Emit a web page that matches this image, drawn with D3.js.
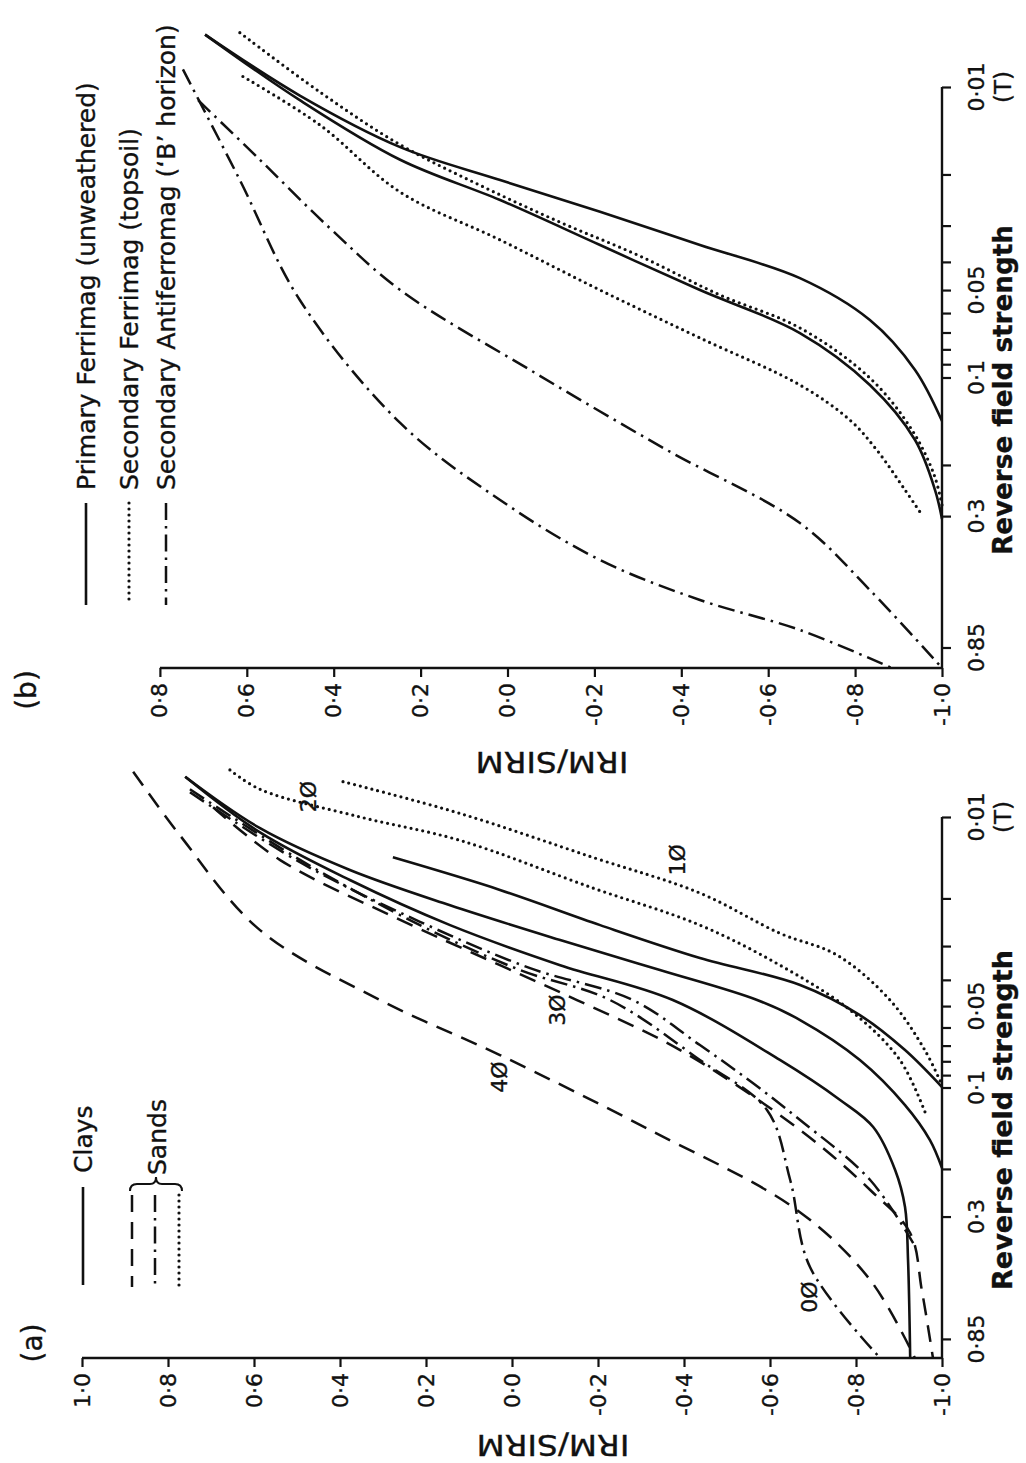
<!DOCTYPE html>
<html><head><meta charset="utf-8">
<script src="https://cdnjs.cloudflare.com/ajax/libs/d3/7.8.5/d3.min.js"></script>
<style>body{margin:0;background:#fff}svg{display:block}</style></head>
<body><svg id="c" width="1026" height="1463"></svg>
<script>
// ---------- data ----------
const irmTicksA = [1.0,0.8,0.6,0.4,0.2,0.0,-0.2,-0.4,-0.6,-0.8,-1.0];
const irmTicksB = [0.8,0.6,0.4,0.2,0.0,-0.2,-0.4,-0.6,-0.8,-1.0];
const fieldLabels = [0.01,0.05,0.1,0.3,0.85];
const fieldTicks = [0.01,0.02,0.03,0.04,0.05,0.06,0.07,0.08,0.09,0.1,0.2,0.3,0.85];

const legendB = ["Primary Ferrimag (unweathered)","Secondary Ferrimag (topsoil)","Secondary Antiferromag (\u2018B\u2019 horizon)"];
const legendA = ["Clays","Sands"];

// panel (b) curves: [IRM/SIRM, reverse field (T)]
const bSolid1 = [[0.696,0.0066],[0.478,0.0107],[0.247,0.0161],[0.017,0.0209],[-0.213,0.0269],[-0.443,0.0350],[-0.673,0.0455],[-0.834,0.0634],[-0.938,0.0942],[-1.0,0.1412]];
const bSolid2 = [[0.696,0.0066],[0.478,0.0111],[0.247,0.0178],[0.017,0.0245],[-0.213,0.0350],[-0.443,0.0500],[-0.673,0.0703],[-0.834,0.1061],[-0.938,0.1641],[-0.984,0.2440],[-1.0,0.3070]];
const bDot1 = [[0.616,0.0065],[0.432,0.0104],[0.247,0.0158],[0.063,0.0218],[-0.121,0.0292],[-0.305,0.0382],[-0.489,0.0520],[-0.673,0.0675],[-0.834,0.1004],[-0.931,0.1516],[-0.982,0.2166],[-1.0,0.2748]];
const bDot2 = [[0.609,0.0092],[0.432,0.0135],[0.247,0.0230],[0.017,0.0336],[-0.213,0.0500],[-0.443,0.0731],[-0.673,0.1061],[-0.788,0.1401],[-0.850,0.1777],[-0.915,0.2440],[-0.954,0.2974]];
const bDashDot1 = [[0.747,0.0087],[0.616,0.0209],[0.478,0.0541],[0.247,0.1434],[0.017,0.2641],[-0.213,0.4249],[-0.443,0.5833],[-0.673,0.7399],[-0.885,1.0]];
const bDashDot2 = [[0.712,0.0111],[0.570,0.0178],[0.409,0.0306],[0.247,0.0500],[-0.052,0.0942],[-0.367,0.1777],[-0.673,0.3170],[-0.834,0.5389],[-1.0,1.0]];

// panel (a) curves
const aDot20 = [[0.656,0.0067],[0.586,0.0079],[0.353,0.0100],[0.121,0.0122],[-0.188,0.0183],[-0.437,0.0251],[-0.623,0.0353],[-0.786,0.0517],[-0.902,0.0791],[-0.965,0.1286]];
const aDot10 = [[0.393,0.0074],[0.121,0.0097],[-0.188,0.0141],[-0.437,0.0191],[-0.623,0.0269],[-0.756,0.0324],[-0.879,0.0475],[-0.960,0.0727],[-1.0,0.0979]];
const aClay1 = [[0.277,0.0141],[0.028,0.0186],[-0.205,0.0251],[-0.437,0.0332],[-0.670,0.0418],[-0.809,0.0540],[-0.914,0.0727],[-1.0,0.0996]];
const aClay2 = [[0.760,0.0071],[0.586,0.0110],[0.377,0.0157],[0.144,0.0212],[-0.112,0.0285],[-0.344,0.0368],[-0.570,0.0475],[-0.670,0.0563],[-0.809,0.0791],[-0.914,0.1161],[-0.972,0.1564],[-1.0,0.1984]];
const aClay3 = [[0.760,0.0071],[0.586,0.0114],[0.377,0.0171],[0.144,0.0251],[-0.112,0.0353],[-0.374,0.0475],[-0.623,0.0791],[-0.763,0.1112],[-0.840,0.1400],[-0.891,0.2018],[-0.914,0.2766],[-0.921,0.4343],[-0.926,1.0]];
const aDash30 = [[0.695,0.0092],[0.540,0.0144],[0.260,0.0240],[0.028,0.0353],[-0.151,0.0475],[-0.391,0.0727],[-0.670,0.1436],[-0.833,0.2393],[-0.926,0.3451],[-0.953,0.5607],[-0.979,1.0]];
const aDash40 = [[0.881,0.0068],[0.772,0.0117],[0.586,0.0262],[0.307,0.0475],[0.028,0.0759],[-0.321,0.1436],[-0.663,0.2838],[-0.833,0.5148],[-0.937,1.0]];
const aDashDot0 = [[0.749,0.0079],[0.493,0.0144],[0.214,0.0251],[-0.019,0.0368],[-0.228,0.0475],[-0.437,0.0791],[-0.593,0.1211],[-0.647,0.2198],[-0.693,0.4610],[-0.856,1.0]];
const aDashDot1 = [[0.749,0.0081],[0.493,0.0147],[0.214,0.0244],[-0.042,0.0362],[-0.281,0.0475],[-0.437,0.0697],[-0.560,0.0963],[-0.670,0.1319],[-0.833,0.2198],[-0.933,0.3758]];

const aCurveLabels = ["1\u00D8","2\u00D8","3\u00D8","4\u00D8","0\u00D8"];
const aCurveLabelPos = [[-0.384,0.0144],[0.474,0.0084],[-0.105,0.0517],[0.028,0.0915],[-0.693,0.5951]];

// ---------- drawing ----------
const svg = d3.select("#c");
svg.append("rect").attr("width",1026).attr("height",1463).attr("fill","#fff");
const FONT = "'DejaVu Sans', Arial, sans-serif";
const ink = "#111";

const styles = {
  solid:{dash:null, cap:"butt", w:2.6},
  dot:{dash:"0,6", cap:"round", w:3.2},
  dash:{dash:"17,10", cap:"butt", w:2.5},
  dashdot:{dash:"17,6,2.5,6", cap:"butt", w:2.5}
};

function rtext(g,x,y,rot,txt,size,anchor,extra){
  const t = g.append("text").attr("transform",`translate(${x},${y}) rotate(${rot})`)
    .attr("text-anchor",anchor||"middle").attr("dominant-baseline","central")
    .attr("font-family",FONT).attr("font-size",size).attr("fill",ink)
    .attr("stroke",ink).attr("stroke-width",0.35).text(txt);
  if(extra) extra(t);
  return t;
}

function panel(cfg){
  const x = d3.scaleLinear().domain([1,-1]).range([cfg.x0,cfg.x1]);
  const y = d3.scaleLog().domain([0.01,1]).range([cfg.yTop,cfg.yBot]);
  const g = svg.append("g");
  const axY = cfg.yBot;
  // horizontal IRM axis
  const xAxis = d3.axisBottom(x).tickValues(cfg.irmTicks).tickSize(9).tickFormat("");
  const gx = g.append("g").attr("transform",`translate(0,${axY})`).call(xAxis);
  gx.select(".domain").attr("d",`M${x(cfg.irmTicks[0])},0H${cfg.x1}`).attr("stroke",ink).attr("stroke-width",2.4);
  gx.selectAll(".tick line").attr("stroke",ink).attr("stroke-width",2.2);
  cfg.irmTicks.forEach(v=>{
    const s = (v<0?"-":"")+Math.abs(v).toFixed(1).replace(".","\u00B7");
    rtext(g,x(v),axY+15,-90,s,22,"end");
  });
  // vertical field axis
  const yAxis = d3.axisRight(y).tickValues(fieldTicks).tickSize(9).tickFormat("");
  const gy = g.append("g").attr("transform",`translate(${cfg.x1},0)`).call(yAxis);
  gy.select(".domain").attr("d",`M0,${cfg.yTop}V${axY}`).attr("stroke",ink).attr("stroke-width",2.4);
  gy.selectAll(".tick line").attr("stroke",ink).attr("stroke-width",2.2);
  fieldLabels.forEach(v=>{
    rtext(g,cfg.x1+34,y(v),-90,String(v).replace("0.","0\u00B7"),22);
  });
  rtext(g,cfg.x1+61,y(0.01),-90,"(T)",23);
  rtext(g,cfg.x1+60,cfg.titleY,-90,"Reverse field strength",27,"middle",
    t=>t.attr("font-weight","bold").attr("textLength",cfg.titleLen).attr("lengthAdjust","spacingAndGlyphs"));
  rtext(g,cfg.titleX,cfg.irmTitleY,180,"IRM/SIRM",29,"middle",
    t=>t.attr("textLength",153).attr("lengthAdjust","spacingAndGlyphs"));
  rtext(g,cfg.labX,cfg.labY,-90,cfg.label,28);

  const line = d3.line().x(d=>x(d[0])).y(d=>y(d[1])).curve(d3.curveCatmullRom.alpha(0.5));
  cfg.curves.forEach(([data,st])=>{
    const s = styles[st];
    g.append("path").attr("d",line(data)).attr("fill","none").attr("stroke",ink)
      .attr("stroke-width",s.w).attr("stroke-linecap",s.cap).attr("stroke-dasharray",s.dash);
  });
  return {g,x,y};
}

const pb = panel({x0:73,x1:942,yTop:87,yBot:668,irmTicks:irmTicksB,titleY:390,titleLen:330,
  titleX:552,irmTitleY:762,label:"(b)",labX:26,labY:690,
  curves:[[bSolid1,"solid"],[bSolid2,"solid"],[bDot1,"dot"],[bDot2,"dot"],[bDashDot1,"dashdot"],[bDashDot2,"dashdot"]]});
const pa = panel({x0:82,x1:942,yTop:817,yBot:1358,irmTicks:irmTicksA,titleY:1120,titleLen:340,
  titleX:553,irmTitleY:1445,label:"(a)",labX:32,labY:1343,
  curves:[[aDot20,"dot"],[aDot10,"dot"],[aClay1,"solid"],[aClay2,"solid"],[aClay3,"solid"],[aDash30,"dash"],[aDash40,"dash"],[aDashDot0,"dashdot"],[aDashDot1,"dashdot"]]});

aCurveLabels.forEach((t,i)=>{
  const p = aCurveLabelPos[i];
  rtext(pa.g,pa.x(p[0]),pa.y(p[1]),-90,t,22);
});

// legends
function vline(g,xp,y0,y1,st){
  const s = styles[st];
  g.append("path").attr("d",`M${xp},${y0}V${y1}`).attr("stroke",ink).attr("stroke-width",s.w)
    .attr("stroke-linecap",s.cap).attr("stroke-dasharray",s.dash).attr("fill","none");
}
const lg = svg.append("g");
const lbX=[86,129,166], lbSt=["solid","dot","dashdot"];
legendB.forEach((t,i)=>{
  rtext(lg,lbX[i],490,-90,t,25,"start");
  vline(lg,lbX[i],503,605,lbSt[i]);
});
rtext(lg,83,1173,-90,legendA[0],25,"start");
vline(lg,83,1187,1285,"solid");
rtext(lg,157,1175,-90,legendA[1],25,"start");
vline(lg,132,1195,1287,"dash");
vline(lg,155,1195,1287,"dashdot");
vline(lg,179,1195,1287,"dot");
lg.append("path").attr("d","M130,1191 Q130,1184 137,1184 L150,1184 Q156,1184 156,1177 Q156,1184 162,1184 L175,1184 Q182,1184 182,1191")
  .attr("fill","none").attr("stroke",ink).attr("stroke-width",2);
</script></body></html>
